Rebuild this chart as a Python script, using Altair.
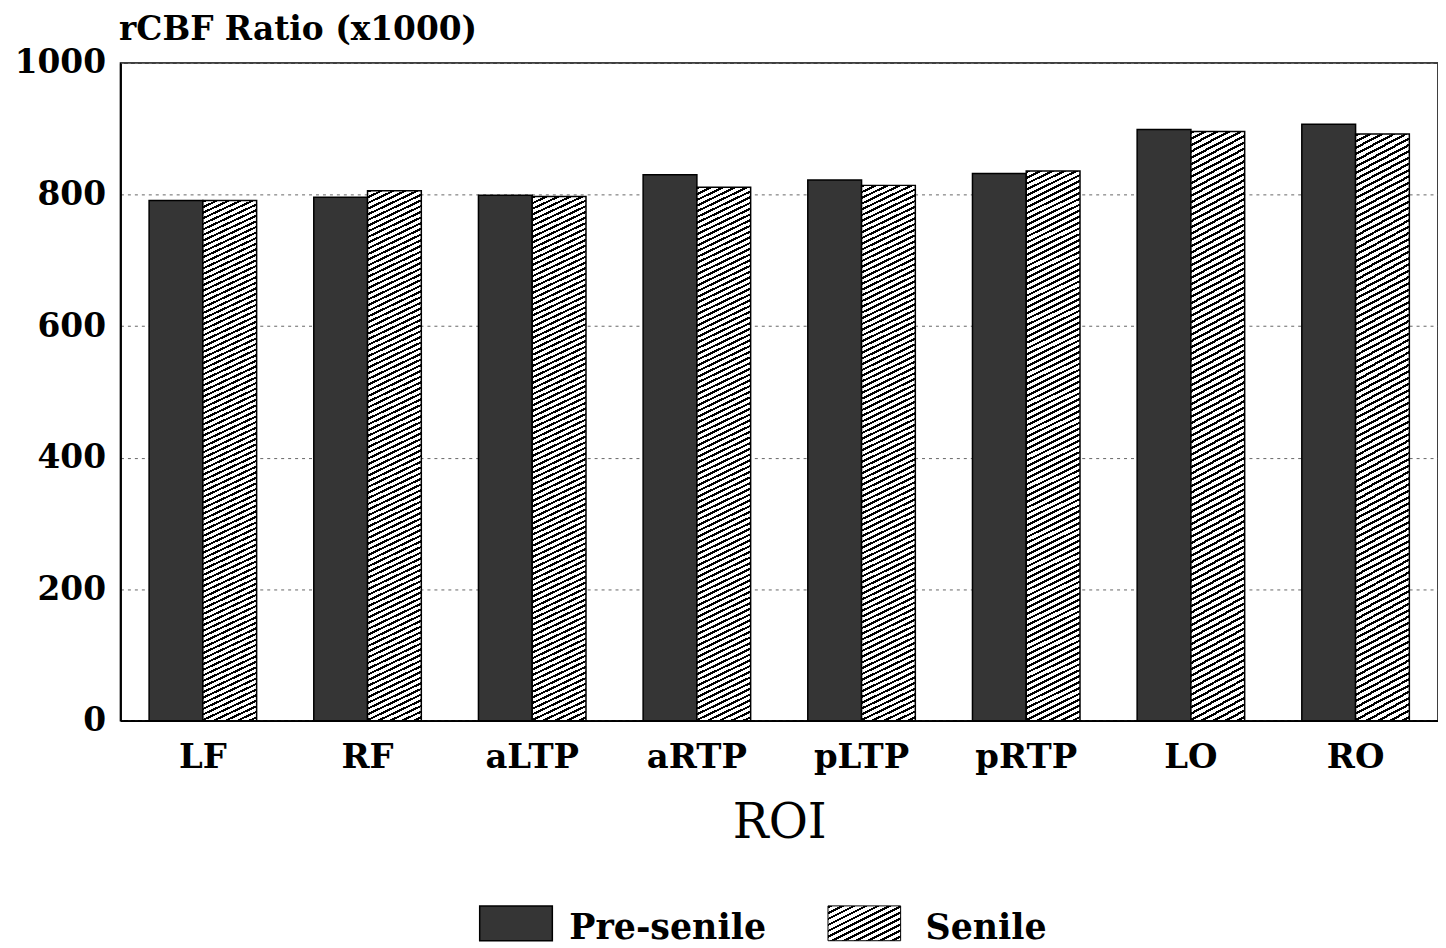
import altair as alt
import pandas as pd

regions = ["LF", "RF", "aLTP", "aRTP", "pLTP", "pRTP", "LO", "RO"]
pre_senile = [791, 796, 799, 830, 822, 832, 899, 907]
senile = [791, 806, 797, 811, 814, 836, 896, 892]
groups = ["Pre-senile", "Senile"]
y_ticks = [0, 200, 400, 600, 800, 1000]

rows = []
for r, p, s in zip(regions, pre_senile, senile):
    rows.append({"roi": r, "group": groups[0], "value": p})
    rows.append({"roi": r, "group": groups[1], "value": s})
df = pd.DataFrame(rows)


def hatch(w, h, slope=0.5, period=6.0, dark=0.4):
    span = slope * w + h
    s = span / ((slope * w) ** 2 + h ** 2)
    stops = []
    c = 0.0
    while c < span:
        a = round(c / span, 5)
        b = round(min((c + dark * period) / span, 1), 5)
        e = round(min((c + period) / span, 1), 5)
        stops += [
            {"offset": a, "color": "#000000"},
            {"offset": b, "color": "#000000"},
            {"offset": b, "color": "#ffffff"},
            {"offset": e, "color": "#ffffff"},
        ]
        c += period
    return {"gradient": "linear", "x1": 0, "y1": 0,
            "x2": round(slope * w * s, 5), "y2": round(h * s, 5), "stops": stops}


DARK = "#353535"
SERIF = "DejaVu Serif"
W, H = 1324, 661

x_enc = alt.X(
    "roi:N", sort=regions,
    scale=alt.Scale(domain=regions, paddingInner=0.347, paddingOuter=0.174),
    axis=alt.Axis(title="ROI", labelAngle=0, ticks=False, labelPadding=20,
                  labelFont=SERIF, labelFontSize=34, labelFontWeight="bold",
                  labelColor="black", domainColor="black", domainWidth=1.5,
                  titleFont=SERIF, titleFontSize=48, titleFontWeight="normal",
                  titleColor="black", titleBaseline="alphabetic", titleY=117),
)
xo_enc = alt.XOffset("group:N", scale=alt.Scale(domain=groups, paddingInner=0, paddingOuter=0))
y_enc = alt.Y(
    "value:Q", scale=alt.Scale(domain=[0, 1000], nice=False),
    axis=alt.Axis(values=y_ticks, format="d", title="rCBF Ratio (x1000)", ticks=False,
                  labelPadding=15, labelFont=SERIF, labelFontSize=33,
                  labelFontWeight="bold", labelColor="black",
                  domainColor="black", domainWidth=2,
                  grid=True, gridColor="#666666", gridDash=[3, 4], gridWidth=1,
                  titleAngle=0, titleAlign="left", titleBaseline="alphabetic",
                  titleX=-2, titleY=-24, titleFont=SERIF, titleFontSize=33,
                  titleFontWeight="bold", titleColor="black"),
)

base = alt.Chart(df)
bars_pre = base.transform_filter(alt.datum.group == groups[0]).mark_bar(
    fill=DARK, stroke="black", strokeWidth=1.5
).encode(x=x_enc, xOffset=xo_enc, y=y_enc)

bars_sen = base.transform_filter(alt.datum.group == groups[1]).mark_bar(
    fill=hatch(54, 560), stroke="black", strokeWidth=1.5
).encode(x=x_enc, xOffset=xo_enc, y=y_enc)

sw1 = alt.Chart(alt.Data(values=[{"label": groups[0]}])).mark_rect(
    fill=DARK, stroke="black", strokeWidth=1.5
).encode(x=alt.value(361), x2=alt.value(434), y=alt.value(847), y2=alt.value(882))
tx1 = alt.Chart(alt.Data(values=[{"label": groups[0]}])).mark_text(
    align="left", baseline="alphabetic", font=SERIF, fontSize=35, fontWeight="bold", color="black"
).encode(x=alt.value(451), y=alt.value(880), text="label:N")

sw2 = alt.Chart(alt.Data(values=[{"label": groups[1]}])).mark_rect(
    fill=hatch(73, 35), stroke="black", strokeWidth=1
).encode(x=alt.value(711), x2=alt.value(784), y=alt.value(847), y2=alt.value(882))
tx2 = alt.Chart(alt.Data(values=[{"label": groups[1]}])).mark_text(
    align="left", baseline="alphabetic", font=SERIF, fontSize=35, fontWeight="bold", color="black"
).encode(x=alt.value(809), y=alt.value(880), text="label:N")

chart = alt.layer(bars_pre, bars_sen, sw1, tx1, sw2, tx2).properties(
    width=W, height=H,
    autosize=alt.AutoSizeParams(type="none"),
    padding={"left": 113, "top": 53, "right": 0, "bottom": 224},
    background="white",
).configure_view(stroke="black", strokeWidth=1.5)

chart.save("out.html", embed_options={"renderer": "svg", "actions": False})
